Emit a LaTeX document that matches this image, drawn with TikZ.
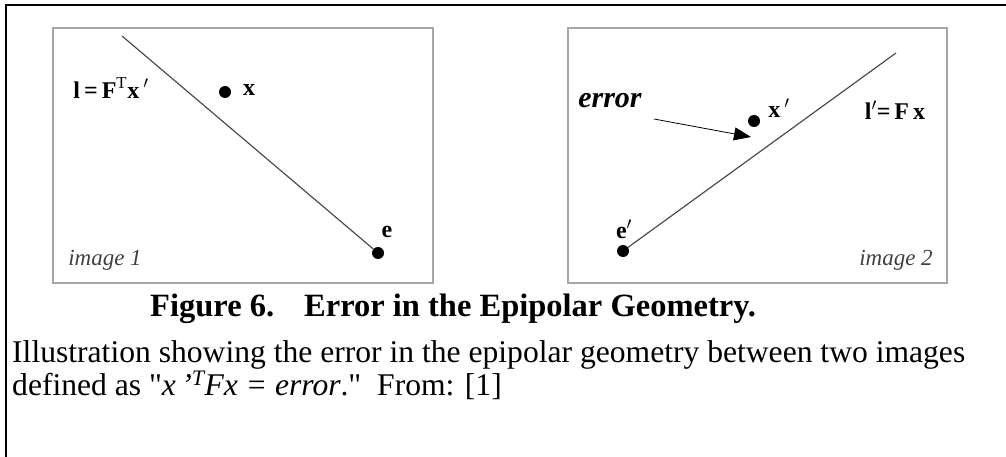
\documentclass[tikz,border=0pt]{standalone}
\usepackage{fontspec}
\setmainfont{Liberation Serif}[Ligatures=TeXOff]
\usetikzlibrary{arrows.meta}
\begin{document}
\begin{tikzpicture}[x=1pt,y=-1pt]
	\tikzset{dot/.style={circle, fill=black, inner sep=0pt, minimum size=12pt},
		lbl/.style={font=\fontsize{24}{24}\selectfont\bfseries, inner sep=0pt},
		imgname/.style={font=\fontsize{23}{23}\selectfont\itshape, text=black!75, inner sep=0pt},
		imgframe/.style={draw=black!35, line width=2pt},
		body/.style={anchor=base west, inner sep=0pt, font=\fontsize{31.6}{33}\selectfont}}
	\useasboundingbox (0,0) rectangle (1006,457);
	\draw[line width=2.5pt] (1006,5) -- (6,5) -- (6,457);
	\draw[imgframe] (53,28) rectangle (433,283);
	\draw[imgframe] (568,28) rectangle (947,283);
	\node[dot] (x)  at (225,92)  {};
	\node[dot] (e)  at (378,253) {};
	\coordinate (ltop) at (122,36);
	\draw[black!70, line width=1.2pt] (ltop) -- (e);
	\node[lbl] (xlab) at (249,90) {x};
	\node[lbl] (elab) at (387,232) {e};
	\node[lbl] (llab) at (111,88) {l\,=\,F\textsuperscript{\normalfont T}x\,$^{\prime}$};
	\node[imgname] (img1) at (105,260) {image 1};
	\node[dot] (ep) at (623,251) {};
	\node[dot] (xp) at (754,121) {};
	\coordinate (rtop) at (896,53);
	\draw[black!70, line width=1.2pt] (ep) -- (rtop);
	\node[lbl] (eplab) at (624,229) {e$^{\prime}$};
	\node[lbl] (xplab) at (779,108) {x\,$^{\prime}$};
	\node[lbl] (lplab) at (895,110) {l$^{\prime}$=\,F\,x};
	\node[lbl, font=\fontsize{30}{30}\selectfont\bfseries\itshape] (err) at (610,101) {error};
	\coordinate (errtail) at (654,119);
	\coordinate (errhead) at (751,137);
	\draw[-{Triangle[length=17pt,width=13pt]}, line width=0.8pt] (errtail) -- (errhead);
	\node[imgname] (img2) at (896,260) {image 2};
	\node[body, font=\fontsize{32.5}{33}\selectfont\bfseries] (fig) at (150,316) {Figure 6.};
	\node[body, font=\fontsize{32.5}{33}\selectfont\bfseries] (title) at (304,316) {Error in the Epipolar Geometry.};
	\node[body] (txta) at (12,362) {Illustration showing the error in the epipolar geometry between two images};
	\node[body] (txtb) at (12,395) {defined as "\textit{x\,’\textsuperscript{T}Fx = error}."\ \ From: [1]};
\end{tikzpicture}
\end{document}
